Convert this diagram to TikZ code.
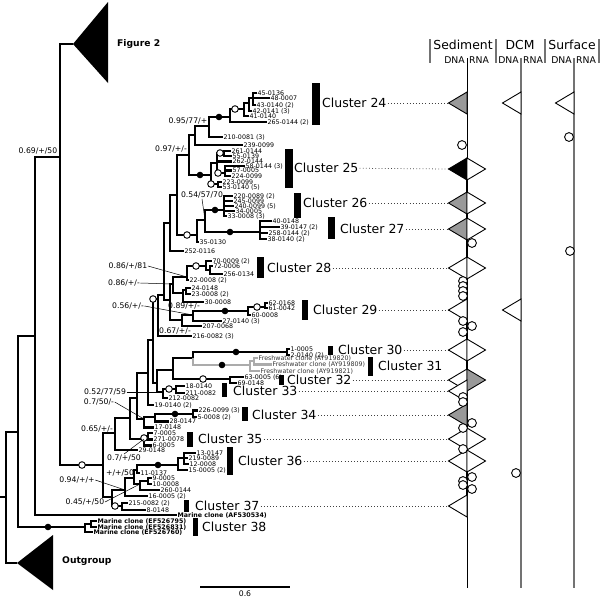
\documentclass[tikz,border=0pt]{standalone}
\usepackage{fontspec}
\setmainfont{DejaVu Sans}
\usepackage{xcolor}
\colorlet{colTip}{black!40}
\colorlet{colFresh}{black!33}
\colorlet{colAxis}{black!55}
\usepackage{tikz}
\usetikzlibrary{calc}
\newcommand{\dnatri}[3]{\filldraw[fill=#1, line width=0.9pt, line join=miter] (#2-18.5,#3) -- (#2,#3-11) -- (#2,#3+11) -- cycle;}
\newcommand{\rnatri}[3]{\filldraw[fill=#1, line width=0.9pt, line join=miter] (#2+18.5,#3) -- (#2,#3-11) -- (#2,#3+11) -- cycle;}

\begin{document}
\begin{tikzpicture}[
    x=1pt, y=-1pt,
    branch/.style={line width=2.3pt},
    freshbranch/.style={branch, colFresh},
    leaf/.style={anchor=west, inner sep=0.5pt, font=\fontsize{6.3}{7}\selectfont, text height=4.6pt, text depth=0.3pt},
    marine/.style={leaf, font=\fontsize{6.3}{7}\selectfont\bfseries},
    fresh/.style={leaf, text=black!80},
    supp/.style={inner sep=0.5pt, font=\fontsize{7.7}{9}\selectfont},
    leader/.style={line width=0.5pt},
    clab/.style={anchor=west, inner sep=1pt, font=\fontsize{12.5}{14}\selectfont, text height=9.1pt, text depth=0pt},
    dotline/.style={line width=0.75pt, black!75, dash pattern=on 0.75pt off 2.4pt},
    opendot/.style={draw, fill=white, line width=0.9pt},
    grouplab/.style={anchor=west, inner sep=0pt, font=\fontsize{9.2}{11}\selectfont\bfseries},
    colhead/.style={inner sep=0pt, font=\fontsize{12.4}{14}\selectfont},
    subhead/.style={inner sep=0.5pt, font=\fontsize{9.3}{11}\selectfont}
  ]
  \useasboundingbox (0,0) rectangle (600,598);

  \coordinate (stub) at (0,497);
  \coordinate (root) at (6,497);
  \coordinate (og) at (17,563);
  \coordinate (nA) at (18,432);
  \coordinate (nB) at (35,336);
  \coordinate (nC) at (60,157);
  \coordinate (fig) at (73,44);
  \coordinate (nD) at (103,465);
  \coordinate (nE) at (115,433);
  \coordinate (nF) at (130,418);
  \coordinate (nG) at (137,398);
  \coordinate (nH) at (148,373);
  \coordinate (nU) at (153,340);
  \coordinate (nV) at (158,299);
  \coordinate (nW) at (157,383);
  \coordinate (nI) at (144,419);
  \coordinate (nI2) at (155,417);
  \coordinate (k34) at (193,414);
  \coordinate (nK35) at (144,439);
  \coordinate (k35a) at (148,436);
  \coordinate (nL) at (112,497);
  \coordinate (k37) at (122,506);
  \coordinate (nM) at (125,490);
  \coordinate (nN) at (134,478);
  \coordinate (nO) at (137,470);
  \coordinate (k36) at (178,465);
  \coordinate (k36a) at (184,458);
  \coordinate (nP) at (140,484);
  \coordinate (nP2) at (148,481);
  \coordinate (nEF) at (85,527);
  \coordinate (nEF2) at (91,524);
  \coordinate (nX) at (173,370);
  \coordinate (k33) at (163,392);
  \coordinate (k33a) at (176,389);
  \coordinate (nY) at (193,358);
  \coordinate (k32) at (230,379);
  \coordinate (k30) at (287,352);
  \coordinate (g31) at (250,365);
  \coordinate (g31a) at (254,361);
  \coordinate (nQ) at (164,295);
  \coordinate (nR) at (170,223);
  \coordinate (nS) at (170,300);
  \coordinate (nT) at (177,195);
  \coordinate (k24p) at (189,155);
  \coordinate (n195) at (195,135);
  \coordinate (n209) at (209,126);
  \coordinate (k24) at (230,117);
  \coordinate (k24a) at (244,109);
  \coordinate (k24b) at (249,103);
  \coordinate (k24c) at (253,98);
  \coordinate (k25) at (211,175);
  \coordinate (k25a) at (217,163);
  \coordinate (k25b) at (224,153);
  \coordinate (k25c) at (225,173);
  \coordinate (k25d) at (218,184);
  \coordinate (k26p) at (197,235);
  \coordinate (k26q) at (205,220);
  \coordinate (k26) at (224,210);
  \coordinate (k27) at (260,232);
  \coordinate (n173) at (173,284);
  \coordinate (n187) at (187,277);
  \coordinate (k28) at (206,266);
  \coordinate (k28a) at (210,270);
  \coordinate (n183) at (183,293);
  \coordinate (n186) at (186,290);
  \coordinate (n182) at (182,320);
  \coordinate (n193) at (193,315);
  \coordinate (k29) at (248,311);
  \coordinate (k29a) at (265,307);

  \node[leaf] (l45) at (257,93) {45-0136};
  \node[leaf] (l48) at (270,98) {48-0007};
  \node[leaf] (l43) at (256,105) {43-0140 (2)};
  \node[leaf] (l42) at (252,111) {42-0141 (3)};
  \node[leaf] (l41) at (249,116) {41-0140};
  \node[leaf] (l265) at (267,122) {265-0144 (2)};
  \node[leaf] (l210) at (223,137) {210-0081 (3)};
  \node[leaf] (l239) at (243,145) {239-0099};
  \node[leaf] (l261) at (231,151) {261-0144};
  \node[leaf] (l55) at (232,156) {55-0139};
  \node[leaf] (l262) at (232,161.5) {262-0144};
  \node[leaf] (l58) at (245,166) {58-0144 (3)};
  \node[leaf] (l57) at (232,170.5) {57-0005};
  \node[leaf] (l224) at (231,176) {224-0099};
  \node[leaf] (l223) at (222,182) {223-0099};
  \node[leaf] (l53) at (222,187) {53-0140 (5)};
  \node[leaf] (l220) at (233,196) {220-0089 (2)};
  \node[leaf] (l245) at (233,201) {245-0099};
  \node[leaf] (l240) at (234,206) {240-0099 (5)};
  \node[leaf] (l34) at (235,211) {34-0005};
  \node[leaf] (l33) at (227,216) {33-0008 (3)};
  \node[leaf] (l40) at (272,221) {40-0148};
  \node[leaf] (l39) at (280,227) {39-0147 (2)};
  \node[leaf] (l258) at (268,233) {258-0144 (2)};
  \node[leaf] (l38) at (267,239) {38-0140 (2)};
  \node[leaf] (l35) at (199,242) {35-0130};
  \node[leaf] (l252) at (184,251) {252-0116};
  \node[leaf] (l70) at (212,261) {70-0009 (2)};
  \node[leaf] (l72) at (213,266) {72-0006};
  \node[leaf] (l256) at (223,274) {256-0134};
  \node[leaf] (l22) at (189,280) {22-0008 (2)};
  \node[leaf] (l24) at (191,288) {24-0148};
  \node[leaf] (l23) at (191,294) {23-0008 (2)};
  \node[leaf] (l30) at (204,302) {30-0008};
  \node[leaf] (l62) at (268,303) {62-0168};
  \node[leaf] (l61) at (268,308) {61-0042};
  \node[leaf] (l60) at (251,315) {60-0008};
  \node[leaf] (l27) at (222,321) {27-0140 (3)};
  \node[leaf] (l207) at (202,326) {207-0068};
  \node[leaf] (l216) at (192,336) {216-0082 (3)};
  \node[leaf] (l1) at (290,349) {1-0005};
  \node[leaf] (l2) at (290,355) {2-0140 (2)};
  \node[fresh] (lf20) at (258,358) {Freshwater clone (AY919820)};
  \node[fresh] (lf09) at (272,364.5) {Freshwater clone (AY919809)};
  \node[fresh] (lf21) at (260,371) {Freshwater clone (AY919821)};
  \node[leaf] (l63) at (244,377) {63-0005 (6)};
  \node[leaf] (l69) at (237,383) {69-0148};
  \node[leaf] (l18) at (185,386) {18-0140};
  \node[leaf] (l211) at (185,393) {211-0082};
  \node[leaf] (l212) at (168,398) {212-0082};
  \node[leaf] (l19) at (154,405) {19-0140 (2)};
  \node[leaf] (l226) at (198,410.5) {226-0099 (3)};
  \node[leaf] (l5) at (197,417) {5-0008 (2)};
  \node[leaf] (l28) at (169,421.5) {28-0147};
  \node[leaf] (l17) at (154,427.5) {17-0148};
  \node[leaf] (l7) at (153,433) {7-0005};
  \node[leaf] (l271) at (153,439.5) {271-0078};
  \node[leaf] (l6) at (152,445.5) {6-0005};
  \node[leaf] (l29) at (138,450) {29-0148};
  \node[leaf] (l13) at (196,453) {13-0147};
  \node[leaf] (l219) at (188,458) {219-0089};
  \node[leaf] (l12) at (189,464) {12-0008};
  \node[leaf] (l15) at (188,470) {15-0005 (2)};
  \node[leaf] (l11) at (140,473) {11-0137};
  \node[leaf] (l9) at (152,478) {9-0005};
  \node[leaf] (l10) at (152,484) {10-0008};
  \node[leaf] (l260) at (160,490) {260-0144};
  \node[leaf] (l16) at (148,496) {16-0005 (2)};
  \node[leaf] (l215) at (128,503) {215-0082 (2)};
  \node[leaf] (l8) at (146,510) {8-0148};
  \node[marine] (laf) at (177,515) {Marine clone (AF530534)};
  \node[marine] (lef95) at (97,521) {Marine clone (EF526795)};
  \node[marine] (lef31) at (97,527) {Marine clone (EF526831)};
  \node[marine] (lef60) at (93,532) {Marine clone (EF526760)};

  \draw[branch] (stub) -- (root);
  \foreach \p/\c in {root/nA, root/og, nA/nB, nA/nEF, nB/nC, nB/laf, nC/fig, nC/nD,
      nD/nE, nD/nL, nE/nF, nE/l29, nF/nG, nF/nK35, nG/nH, nG/nI, nH/nU, nH/l19,
      nU/nV, nU/nW, nI/nI2, nI/l17, nI2/k34, nI2/l28, k34/l226, k34/l5,
      nK35/k35a, nK35/l6, k35a/l7, k35a/l271, nL/nM, nL/k37, k37/l215, k37/l8,
      nM/nN, nM/l16, nN/nO, nN/nP, nO/k36, nO/l11, k36/k36a, k36/l15,
      k36a/l13, k36a/l219, k36a/l12, nP/nP2, nP/l260, nP2/l9, nP2/l10,
      nEF/nEF2, nEF/lef60, nEF2/lef95, nEF2/lef31, nW/nX, nW/k33, k33/k33a,
      k33/l212, k33a/l18, k33a/l211, nX/nY, nX/k32, k32/l63, k32/l69,
      nY/k30, k30/l1, k30/l2, nV/nQ, nV/l216, nQ/nR, nQ/nS, nR/nT, nR/l252,
      nT/k24p, nT/k26p, k24p/n195, k24p/k25, n195/n209, n195/l239,
      n209/k24, n209/l210, k24/k24a, k24/l265, k24a/k24b, k24a/l41,
      k24b/k24c, k24b/l42, k24c/l45, k24c/l48, k24c/l43, k25/k25a, k25/k25d,
      k25a/k25b, k25a/l262, k25a/k25c, k25b/l261, k25b/l55, k25c/l58,
      k25c/l57, k25c/l224, k25d/l223, k25d/l53, k26p/k26q, k26p/l35,
      k26q/k26, k26q/k27, k26/l220, k26/l245, k26/l240, k26/l34, k26/l33,
      k27/l40, k27/l39, k27/l258, k27/l38, nS/n173, nS/n182, n173/n187,
      n173/n183, n187/k28, n187/l22, k28/l70, k28/k28a, k28a/l72, k28a/l256,
      n183/n186, n183/l30, n186/l24, n186/l23, n182/n193, n182/l207,
      n193/k29, n193/l27, k29/k29a, k29/l60, k29a/l62, k29a/l61}
    \draw[branch] (\p) |- (\c);
  \foreach \p/\c in {nY/g31, g31/g31a, g31/lf21, g31a/lf20, g31a/lf09}
    \draw[freshbranch] (\p) |- (\c);

  \fill (fig) -- (108,2) -- (108,83) -- cycle;
  \fill (og) -- (53,535) -- (53,590) -- cycle;
  \node[grouplab] (figlab) at (117,44) {Figure 2};
  \node[grouplab] (outlab) at (62,561) {Outgroup};

  \foreach \x/\y in {219/117, 200/175, 215/210, 230/232, 225/311, 236/352,
      222/365, 175/414, 158/465, 48/527}
    \fill (\x,\y) circle (3.3pt);
  \foreach \x/\y in {235/109, 220/153, 218/173, 211/184, 187/235, 196/266,
      257/307, 153/299, 203/379, 169/389, 144/438, 82/465, 115/506}
    \draw[opendot] (\x,\y) circle (3.3pt);

  \node[supp] (b1) at (38,151) {0.69/+/50};
  \node[supp] (b2) at (171,149) {0.97/+/-};
  \node[supp] (b3) at (188,121) {0.95/77/+};
  \node[supp] (b4) at (202,195) {0.54/57/70};
  \node[supp] (b5) at (128,266) {0.86/+/81};
  \node[supp] (b6) at (124,283) {0.86/+/-};
  \node[supp] (b7) at (128,306) {0.56/+/-};
  \node[supp] (b8) at (184,306) {0.89/+/-};
  \node[supp] (b9) at (175,331) {0.67/+/-};
  \node[supp] (b10) at (105,392) {0.52/77/59};
  \node[supp] (b11) at (99,402) {0.7/50/-};
  \node[supp] (b12) at (97,429) {0.65/+/-};
  \node[supp] (b13) at (124,458) {0.7/+/50};
  \node[supp] (b14) at (120,473) {+/+/50};
  \node[supp] (b15) at (77,480) {0.94/+/+};
  \node[supp] (b16) at (85,502) {0.45/+/50};
  \draw[leader] (b4.south) -- (k26q);
  \draw[leader] (b5.east) -- (n187);
  \draw[leader] (b6.east) -- (n173);
  \draw[leader] (b7.east) -- (n193);
  \draw[leader] (b10.east) -- (k33);
  \draw[leader] (b11.east) -- (nI);
  \draw[leader] (b13.north) -- (nK35);
  \draw[leader] (b15.east) -- (nM);
  \draw[leader] (b16.east) -- (nP);

  \fill (312,83) rectangle (320,125);
  \fill (285,149) rectangle (293,188);
  \fill (294,193) rectangle (301,218);
  \fill (328,217) rectangle (335,239);
  \fill (257,257) rectangle (264,278);
  \fill (302,300) rectangle (308,320);
  \fill (328,346) rectangle (333,355);
  \fill (368,357) rectangle (373,376);
  \fill (279,375) rectangle (284,385);
  \fill (222,383) rectangle (227,397);
  \fill (242,407) rectangle (248,421);
  \fill (187,432) rectangle (193,447);
  \fill (227,447) rectangle (233,475);
  \fill (184,500) rectangle (189,512);
  \fill (193,518) rectangle (198,536);
  \node[clab] (c24) at (321,103) {Cluster 24};
  \node[clab] (c25) at (293,168) {Cluster 25};
  \node[clab] (c26) at (302,203) {Cluster 26};
  \node[clab] (c27) at (339,229) {Cluster 27};
  \node[clab] (c28) at (266,268) {Cluster 28};
  \node[clab] (c29) at (312,310) {Cluster 29};
  \node[clab] (c30) at (337,350) {Cluster 30};
  \node[clab] (c31) at (377,366) {Cluster 31};
  \node[clab] (c32) at (286,380) {Cluster 32};
  \node[clab] (c33) at (232,391) {Cluster 33};
  \node[clab] (c34) at (251,415) {Cluster 34};
  \node[clab] (c35) at (197,439) {Cluster 35};
  \node[clab] (c36) at (237,461) {Cluster 36};
  \node[clab] (c37) at (194,506) {Cluster 37};
  \node[clab] (c38) at (201,527) {Cluster 38};

  \foreach \x in {430,496,545,599}
    \draw[colAxis, line width=1.1pt] (\x,39) -- (\x,63);
  \node[colhead] (hsed) at (463,45) {Sediment};
  \node[colhead] (hdcm) at (520,45) {DCM};
  \node[colhead] (hsur) at (572,45) {Surface};
  \foreach \x/\n in {467/sed, 521/dcm, 574/sur} {
    \node[subhead, anchor=east] (dna\n) at (\x-1.5,60) {DNA};
    \node[subhead, anchor=west] (rna\n) at (\x+1.5,60) {RNA};
  }
  \draw[line width=0.8pt] (467,58) -- (467,588);
  \draw[line width=2pt] (467,158) -- (467,517);
  \draw[colAxis, line width=1.1pt] (521,58) -- (521,588);
  \draw[colAxis, line width=1.1pt] (574,58) -- (574,588);

  \foreach \n/\y in {24/103, 25/169, 26/203, 27/229, 28/268, 29/310, 30/350,
      32/380, 33/391, 34/415, 35/439, 36/461, 37/506} {
    \coordinate (t\n) at (448.5,\y);
    \draw[dotline] (c\n) -- (t\n);
  }

  \dnatri{colTip}{467}{103}
  \dnatri{white}{521}{103}
  \dnatri{white}{574}{103}
  \dnatri{black}{467}{169}
  \rnatri{white}{467}{169}
  \dnatri{colTip}{467}{203}
  \rnatri{white}{467}{203}
  \dnatri{colTip}{467}{229}
  \rnatri{white}{467}{229}
  \dnatri{white}{467}{268}
  \rnatri{white}{467}{268}
  \dnatri{white}{467}{310}
  \dnatri{white}{521}{310}
  \dnatri{white}{467}{350}
  \rnatri{white}{467}{350}
  \dnatri{white}{467}{380}
  \rnatri{colTip}{467}{380}
  \dnatri{white}{467}{391}
  \dnatri{colTip}{467}{415}
  \dnatri{white}{467}{439}
  \rnatri{white}{467}{439}
  \dnatri{white}{467}{461}
  \rnatri{white}{467}{461}
  \dnatri{white}{467}{506}

  \foreach \x/\y in {462/145, 569/137, 472/243, 570/251, 463/281, 463/286,
      463/291, 463/296, 463/321, 472/326, 463/332, 463/397, 463/402,
      472/423, 463/428, 463/449, 472/477, 463/481, 463/485, 472/489, 516/473}
    \draw[opendot] (\x,\y) circle (4.4pt);

  \coordinate (sb1) at (200,587);
  \coordinate (sb2) at (290,587);
  \draw[line width=2pt] (sb1) -- (sb2);
  \node[supp] (sblab) at (245,594) {0.6};
\end{tikzpicture}
\end{document}
